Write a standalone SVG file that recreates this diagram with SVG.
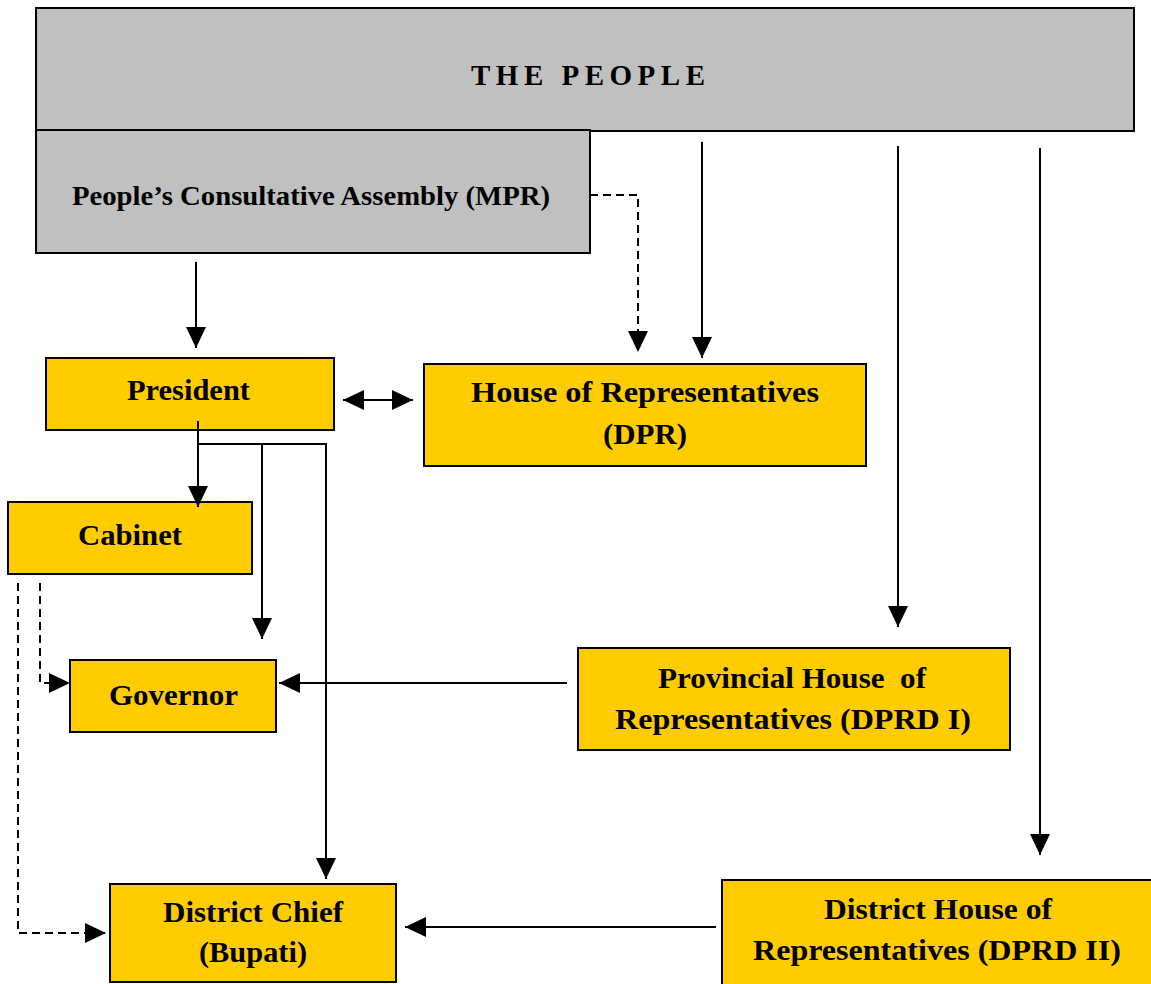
<svg xmlns="http://www.w3.org/2000/svg" width="1151" height="984" viewBox="0 0 1151 984">
<defs>
<marker id="ah" markerUnits="userSpaceOnUse" markerWidth="21" markerHeight="21" viewBox="0 0 21 21" refX="21" refY="10.5" orient="auto-start-reverse">
<path d="M0,0.5 L21,10.5 L0,20.5 Z" fill="#000"/>
</marker>
</defs>
<style>
.gray{fill:#c0c0c0;stroke:#000;stroke-width:2}
.gold{fill:#ffcc00;stroke:#000;stroke-width:2}
.t{font-family:"Liberation Serif","Times New Roman",serif;font-weight:bold;fill:#000;text-anchor:middle}
.c{fill:none;stroke:#000;stroke-width:2}
.d{fill:none;stroke:#000;stroke-width:2;stroke-dasharray:8,5}
</style>
<rect width="1151" height="984" fill="#fff"/>
<g id="people">
<rect class="gray" x="36" y="8" width="1098" height="123"/>
<text class="t" x="588" y="85" font-size="29" textLength="234" lengthAdjust="spacing">THE PEOPLE</text>
</g>
<g id="mpr">
<rect class="gray" x="36" y="130" width="554" height="123"/>
<text class="t" x="311" y="205" font-size="28" textLength="478" lengthAdjust="spacingAndGlyphs">People’s Consultative Assembly (MPR)</text>
</g>
<g id="president">
<rect class="gold" x="46" y="358" width="288" height="72"/>
<text class="t" x="188.5" y="400" font-size="30" textLength="123" lengthAdjust="spacingAndGlyphs">President</text>
</g>
<g id="dpr">
<rect class="gold" x="424" y="364" width="442" height="102"/>
<text class="t" x="645" y="402" font-size="30" textLength="348" lengthAdjust="spacingAndGlyphs">House of Representatives</text>
<text class="t" x="645" y="444" font-size="30" textLength="84" lengthAdjust="spacingAndGlyphs">(DPR)</text>
</g>
<g id="cabinet">
<rect class="gold" x="8" y="502" width="244" height="72"/>
<text class="t" x="130" y="545" font-size="30" textLength="104" lengthAdjust="spacingAndGlyphs">Cabinet</text>
</g>
<g id="governor">
<rect class="gold" x="70" y="660" width="206" height="72"/>
<text class="t" x="173.5" y="705" font-size="30" textLength="129" lengthAdjust="spacingAndGlyphs">Governor</text>
</g>
<g id="dprd1">
<rect class="gold" x="578" y="648" width="432" height="102"/>
<text class="t" x="792" y="688" font-size="30" xml:space="preserve" textLength="268" lengthAdjust="spacingAndGlyphs">Provincial House  of</text>
<text class="t" x="793" y="729" font-size="30" textLength="356" lengthAdjust="spacingAndGlyphs">Representatives (DPRD I)</text>
</g>
<g id="bupati">
<rect class="gold" x="110" y="884" width="286" height="98"/>
<text class="t" x="253" y="922" font-size="30" textLength="180" lengthAdjust="spacingAndGlyphs">District Chief</text>
<text class="t" x="253" y="962" font-size="30" textLength="108" lengthAdjust="spacingAndGlyphs">(Bupati)</text>
</g>
<g id="dprd2">
<rect class="gold" x="722" y="880" width="440" height="110"/>
<text class="t" x="938" y="919" font-size="30" textLength="228" lengthAdjust="spacingAndGlyphs">District House of</text>
<text class="t" x="937" y="960" font-size="30" textLength="368" lengthAdjust="spacingAndGlyphs">Representatives (DPRD II)</text>
</g>
<g id="connectors">
<line class="c" x1="196" y1="262" x2="196" y2="348" marker-end="url(#ah)"/>
<polyline class="d" points="590,195 638,195 638,352" marker-end="url(#ah)"/>
<line class="c" x1="702" y1="142" x2="702" y2="358" marker-end="url(#ah)"/>
<line class="c" x1="898" y1="146" x2="898" y2="627" marker-end="url(#ah)"/>
<line class="c" x1="1040" y1="148" x2="1040" y2="855" marker-end="url(#ah)"/>
<line class="c" x1="343" y1="400" x2="413" y2="400" marker-start="url(#ah)" marker-end="url(#ah)"/>
<line class="c" x1="198" y1="421" x2="198" y2="507" marker-end="url(#ah)"/>
<polyline class="c" points="198,444 326,444 326,879" marker-end="url(#ah)"/>
<line class="c" x1="262" y1="444" x2="262" y2="639" marker-end="url(#ah)"/>
<polyline class="d" points="40,583 40,683 70,683" marker-end="url(#ah)"/>
<polyline class="d" points="18,583 18,933 106,933" marker-end="url(#ah)"/>
<line class="c" x1="567" y1="683" x2="279" y2="683" marker-end="url(#ah)"/>
<line class="c" x1="716" y1="927" x2="405" y2="927" marker-end="url(#ah)"/>
</g>
</svg>
